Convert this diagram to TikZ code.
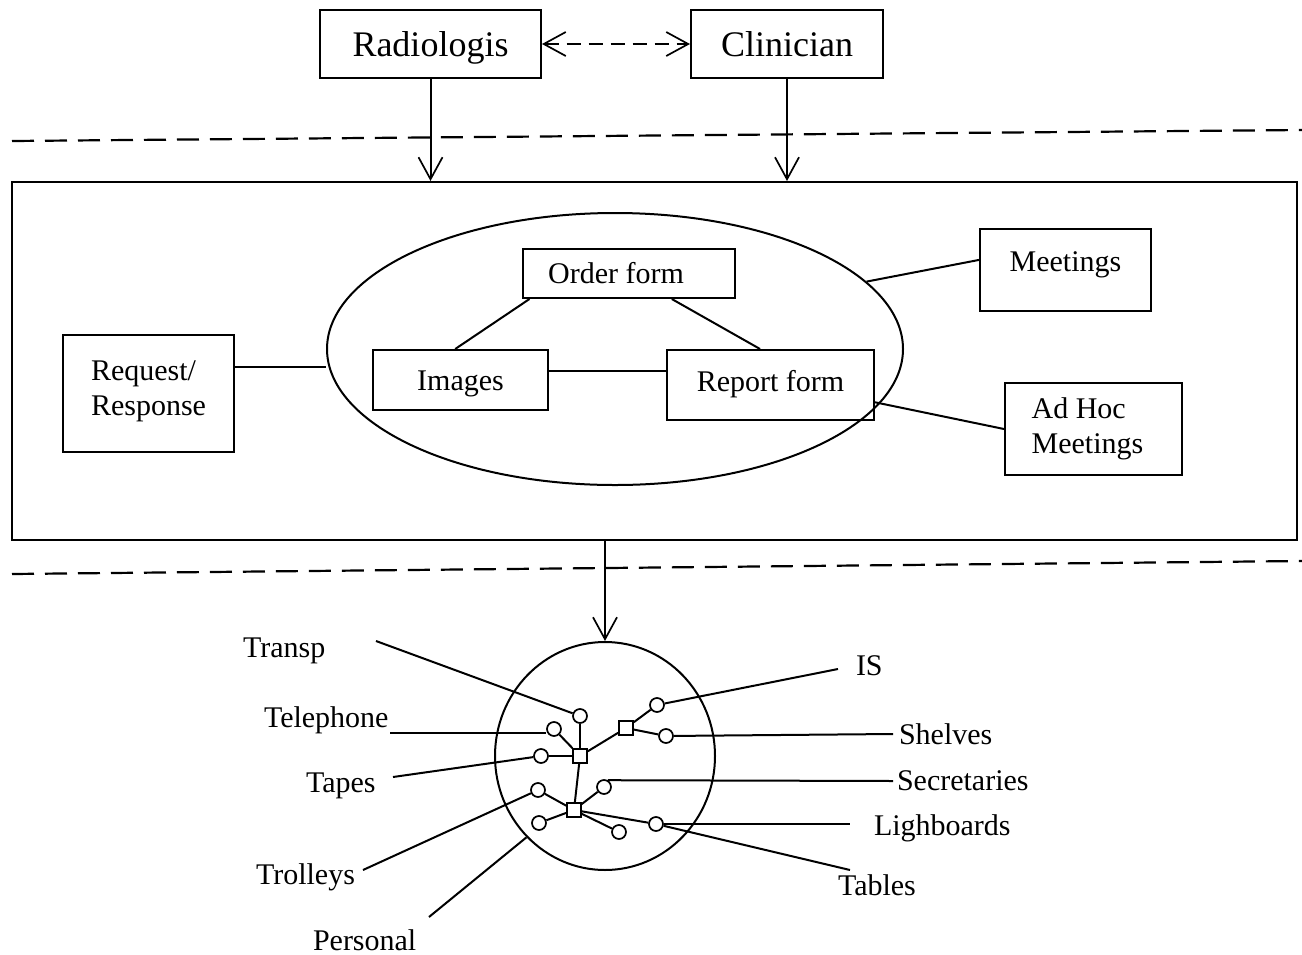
\documentclass[tikz,border=0pt]{standalone}
\usepackage{fontspec}
\setmainfont{Liberation Serif}
\usetikzlibrary{arrows.meta,shapes.geometric,calc}

\begin{document}
\begin{tikzpicture}[x=1pt,y=-1pt,
  line width=2pt,
  box/.style={draw, rectangle, inner sep=0pt},
  bigtxt/.style={font=\fontsize{36}{40}\selectfont, text height=30pt, text depth=6pt},
  txt/.style={font=\fontsize{30}{35}\selectfont, text height=26pt, text depth=6pt},
  multi/.style={font=\fontsize{30}{35}\selectfont, align=left},
  lab/.style={font=\fontsize{30}{35}\selectfont, anchor=base west, inner sep=0pt},
  dot/.style={draw, circle, minimum size=14pt, inner sep=0pt, line width=1.7pt},
  sq/.style={draw, rectangle, minimum size=14pt, inner sep=0pt, line width=1.7pt},
  barb/.tip={Straight Barb[length=22pt, width=24pt, line width=1.7pt]},
  tip/.style={-barb},
  longdash/.style={dash pattern=on 22pt off 11pt, line width=2.2pt},
  shortdash/.style={dash pattern=on 14pt off 8pt, line width=2.2pt},
]
\useasboundingbox (0,0) rectangle (1302,954);

% --- actors -------------------------------------------------------------
\node[box, bigtxt, minimum width=221pt, minimum height=68pt] (rad) at (430.5,44) {Radiologis};
\node[box, bigtxt, minimum width=192pt, minimum height=68pt] (cli) at (787,44) {Clinician};
\draw[shortdash, barb-barb] (rad.east) -- (cli.west);

% --- level separators ---------------------------------------------------
\coordinate (sepAl) at (12,141);
\coordinate (sepAr) at (1302,130);
\coordinate (sepBl) at (12,574);
\coordinate (sepBr) at (1302,561);
\draw[longdash] (sepAl) -- (sepAr);
\draw[longdash] (sepBl) -- (sepBr);

% --- communication layer ------------------------------------------------
\node[box, minimum width=1285pt, minimum height=358pt] (frame) at (654.5,361) {};
\draw[tip] (rad.south) -- (rad.south |- frame.north);
\draw[tip] (cli.south) -- (cli.south |- frame.north);

\node[draw, ellipse, minimum width=576pt, minimum height=272pt, inner sep=0pt] (oval) at (615,349) {};

\node[box, txt, minimum width=212pt, minimum height=49pt] (ord) at (629,273.5) {Order form\hspace*{26pt}};
\node[box, txt, minimum width=175pt, minimum height=60pt] (img) at (460.5,380) {Images};
\node[box, txt, text depth=14pt, minimum width=207pt, minimum height=70pt] (rep) at (770.5,385) {Report form};
\node[box, multi, minimum width=171pt, minimum height=117pt] (req) at (148.5,393.5) {Request/\\Response\\[-25pt]};
\node[box, txt, text depth=24pt, minimum width=171pt, minimum height=82pt] (meet) at (1065.5,270) {Meetings};
\node[box, multi, minimum width=177pt, minimum height=92pt] (adhoc) at (1093.5,429) {\hspace*{-12pt}Ad Hoc\\\hspace*{-12pt}Meetings};

\coordinate (imgR) at ($(img.north east)!0.35!(img.south east)$);
\coordinate (reqR) at ($(req.north east)!0.28!(req.south east)$);
\draw ($(ord.south west)!0.035!(ord.south east)$) -- ($(img.north west)!0.47!(img.north east)$);
\draw ($(ord.south west)!0.7!(ord.south east)$) -- ($(rep.north west)!0.45!(rep.north east)$);
\draw (imgR) -- (imgR -| rep.west);
\draw (reqR) -- (reqR -| oval.west);
\draw ($(meet.north west)!0.38!(meet.south west)$) -- (oval.15.4);
\draw ($(rep.north east)!0.74!(rep.south east)$) -- (adhoc.west);

% --- physical artefacts -------------------------------------------------
\node[draw, ellipse, minimum width=220pt, minimum height=228pt, inner sep=0pt] (circ) at (605,756) {};
\draw[tip] (circ.north |- frame.south) -- (circ.north);

\node[dot] (dTr) at (580,716) {};
\node[dot] (dTe) at (554,729) {};
\node[dot] (dTa) at (541,756) {};
\node[sq]  (sqA) at (580,756) {};
\node[sq]  (sqB) at (626,728) {};
\node[dot] (dIS) at (657,705) {};
\node[dot] (dSh) at (666,736) {};
\node[dot] (dSe) at (604,787) {};
\node[dot] (dTo) at (538,790) {};
\node[dot] (dPe) at (539,823) {};
\node[sq]  (sqL) at (574,810) {};
\node[dot] (dTb) at (619,832) {};
\node[dot] (dLi) at (656,824) {};

\draw (dTr) -- (sqA);
\draw (dTe) -- (sqA);
\draw (dTa) -- (sqA);
\draw (sqA) -- (sqB);
\draw (sqB) -- (dIS);
\draw (sqB) -- (dSh);
\draw (sqA) -- (sqL);
\draw (sqL) -- (dSe);
\draw (sqL) -- (dPe);
\draw (dTo) -- (sqL);
\draw (sqL) -- (dLi);
\draw (sqL) -- (dTb);

% labels and their leader lines
\node[lab] (tTransp) at (242,657) {Transp};
\node[lab] (tTel)    at (263,727) {Telephone};
\node[lab] (tTapes)  at (305,792) {Tapes};
\node[lab] (tTroll)  at (255,884) {Trolleys};
\node[lab] (tPers)   at (312,950) {Personal};
\node[lab] (tIS)     at (855,675) {IS};
\node[lab] (tShel)   at (898,744) {Shelves};
\node[lab] (tSec)    at (896,790) {Secretaries};
\node[lab] (tLig)    at (873,835) {Lighboards};
\node[lab] (tTab)    at (837,895) {Tables};

\coordinate (eTransp) at (376,641);
\coordinate (eTel)    at (390,733);
\coordinate (eTapes)  at (393,777);
\coordinate (eTroll)  at (363,870);
\coordinate (ePers)   at (429,917);
\coordinate (eIS)     at (838,669);
\coordinate (eShel)   at (893,734);
\coordinate (eSec)    at (893,781);
\coordinate (eLig)    at (850,824);
\coordinate (eTab)    at (850,870);

\draw (eTransp) -- (dTr);
\draw (eTel) -- (eTel -| dTe.west);
\draw (eTapes) -- (dTa);
\draw (eTroll) -- (dTo);
\draw (ePers) -- (circ.226);
\draw (dIS) -- (eIS);
\draw (dSh) -- (eShel);
\draw (dSe.60) -- (eSec);
\draw (dLi.east) -- (eLig);
\draw (dLi) -- (eTab);
\end{tikzpicture}
\end{document}
